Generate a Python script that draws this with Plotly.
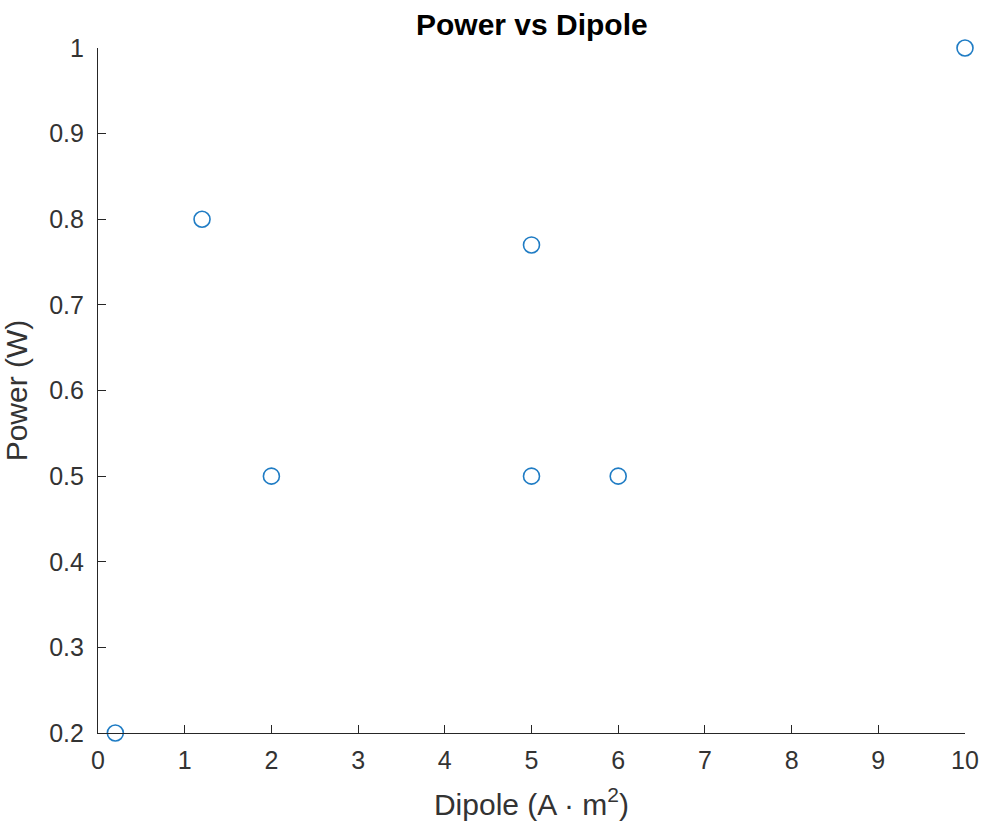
import plotly.graph_objects as go

dipole = [0.2, 1.2, 2, 5, 5, 6, 10]
power = [0.2, 0.8, 0.5, 0.77, 0.5, 0.5, 1.0]
x_ticks = [0, 1, 2, 3, 4, 5, 6, 7, 8, 9, 10]
y_ticks = [0.2, 0.3, 0.4, 0.5, 0.6, 0.7, 0.8, 0.9, 1.0]
y_tick_labels = ["0.2", "0.3", "0.4", "0.5", "0.6", "0.7", "0.8", "0.9", "1"]

fig = go.Figure()
fig.add_trace(go.Scatter(
    x=dipole, y=power, mode="markers",
    marker=dict(symbol="circle-open", size=16, color="#1f7cc4", line=dict(width=1.6, color="#1f7cc4")),
    cliponaxis=False, showlegend=False,
))

font = "Liberation Sans, Arial, Helvetica, sans-serif"
axis_common = dict(
    showgrid=False, zeroline=False, showline=True, linecolor="#262626", linewidth=1.2,
    ticks="inside", ticklen=8, tickwidth=1, tickcolor="#262626",
    tickfont=dict(family=font, size=25, color="#333333"),
    mirror=False, automargin=False,
)
fig.update_layout(
    width=984, height=831,
    margin=dict(l=98, r=19, t=48, b=98),
    paper_bgcolor="white", plot_bgcolor="white",
    title=dict(text="<b>Power vs Dipole</b>", x=0.5405, xanchor="center", y=0.97, yanchor="middle",
               font=dict(family=font, size=30, color="black")),
    xaxis=dict(range=[0, 10], tickvals=x_ticks, ticklabelstandoff=5,
               title=dict(text="Dipole (A · m<sup>2</sup>)", standoff=20,
                          font=dict(family=font, size=30, color="#333333")), **axis_common),
    yaxis=dict(range=[0.2, 1.0], tickvals=y_ticks, ticktext=y_tick_labels, ticklabelstandoff=8,
               title=dict(text="Power (W)", standoff=12, font=dict(family=font, size=30, color="#333333")),
               **axis_common),
)
fig.write_html("out.html")
